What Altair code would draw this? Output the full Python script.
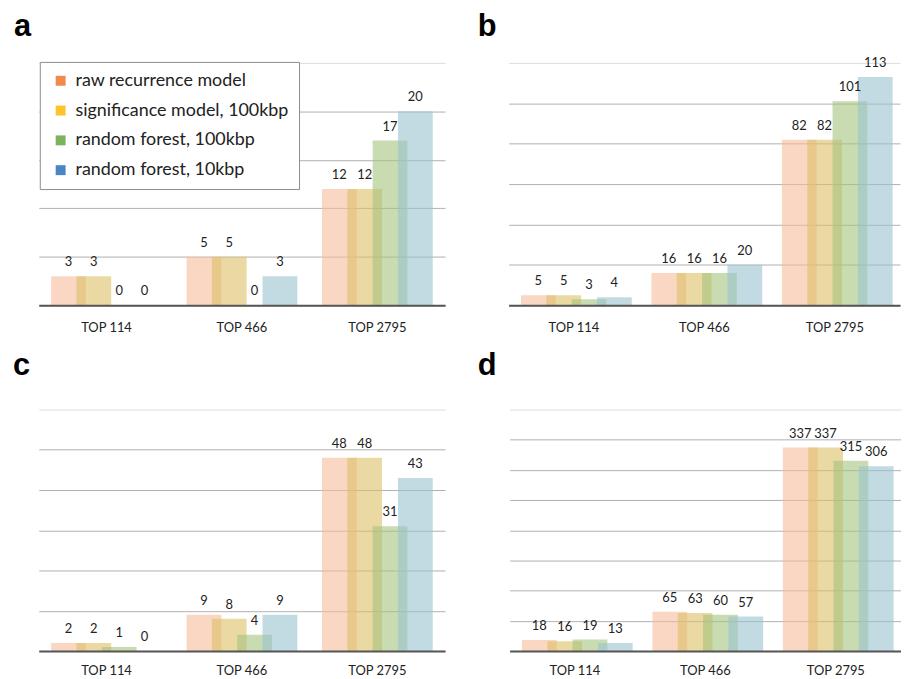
import altair as alt
import pandas as pd

categories = ["TOP 114", "TOP 466", "TOP 2795"]
series = [
    "raw recurrence model",
    "significance model, 100kbp",
    "random forest, 100kbp",
    "random forest, 10kbp",
]
legend_colors = ["#ef8a4c", "#fdc42d", "#7db35f", "#4a86c5"]
bar_colors = ["#f5bc9b", "#dec066", "#a5c37d", "#99c3cf"]

# values per category (TOP 114, TOP 466, TOP 2795), 4 series each
values_a = [3, 3, 0, 0, 5, 5, 0, 3, 12, 12, 17, 20]
values_b = [5, 5, 3, 4, 16, 16, 16, 20, 82, 82, 101, 113]
values_c = [2, 2, 1, 0, 9, 8, 4, 9, 48, 48, 31, 43]
values_d = [18, 16, 19, 13, 65, 63, 60, 57, 337, 337, 315, 306]

y_max = {"a": 25, "b": 120, "c": 60, "d": 400}
y_step = {"a": 5, "b": 20, "c": 10, "d": 50}

FONT = "Lato"


def make_panel(letter, vals, width, height, title_dx, title_offset, label_pad, with_legend):
    df = pd.DataFrame({
        "category": [c for c in categories for _ in series],
        "series": [s for _ in categories for s in series],
        "value": vals,
    })
    ymax = y_max[letter]
    step = y_step[letter]
    grid_vals = list(range(0, ymax + 1, step))
    base = alt.Chart(df).encode(
        x=alt.X("category:N", sort=categories,
                scale=alt.Scale(paddingInner=0, paddingOuter=0),
                axis=alt.Axis(title=None, labelAngle=0, ticks=False, grid=False,
                              domainColor="#555555", domainWidth=2,
                              labelPadding=label_pad, labelFont=FONT, labelFontSize=13,
                              labelColor="#222222", zindex=1)),
        xOffset=alt.XOffset("series:N", sort=series,
                            scale=alt.Scale(domain=series, paddingInner=0, paddingOuter=0.673)),
        y=alt.Y("value:Q", scale=alt.Scale(domain=[0, ymax], nice=False, zero=True),
                axis=alt.Axis(values=grid_vals, title=None, labels=False, ticks=False,
                              domain=False, grid=True, gridWidth=1,
                              gridColor={"condition": {"test": f"datum.value === {ymax}", "value": "#dcdcdc"},
                                         "value": "#b0b0b0"})),
    )
    bars = base.mark_bar(width=35, opacity=0.6).encode(
        color=alt.Color("series:N", sort=series,
                        scale=alt.Scale(domain=series, range=bar_colors), legend=None)
    )
    labels = base.mark_text(font=FONT, fontSize=13, color="#222222",
                            baseline="alphabetic", dy=-10).encode(text="value:Q")
    layers = [bars, labels]
    if with_legend:
        legend_layer = base.mark_square(opacity=0, size=100).encode(
            fill=alt.Fill("series:N", sort=series,
                          scale=alt.Scale(range=legend_colors),
                          legend=alt.Legend(title=None, orient="none", legendX=1, legendY=-1,
                                            fillColor="white", strokeColor="#8c8c8c",
                                            padding=10, symbolType="square", symbolSize=100,
                                            symbolOffset=2, symbolStrokeWidth=0,
                                            symbolOpacity=1, labelFont=FONT,
                                            labelFontSize=18, labelColor="#222222",
                                            labelOffset=6, rowPadding=12, labelLimit=400))
        )
        layers.append(legend_layer)
    return alt.layer(*layers).properties(
        width=width, height=height,
        title=alt.TitleParams(text=letter, anchor="start", frame="group", dx=title_dx,
                              offset=title_offset, font="Liberation Sans", fontSize=31,
                              fontWeight="bold", color="#000000", baseline="alphabetic"),
    )


pa = make_panel("a", values_a, 409, 244, -25, -5, 16, True)
pb = make_panel("b", values_b, 394, 244, -31, -10, 16, False)
pc = make_panel("c", values_c, 409, 243, -26, 3.5, 14, False)
pd_ = make_panel("d", values_d, 394, 243, -32, 3.5, 14, False)

row1 = alt.hconcat(pa, pb, spacing=33).resolve_scale(
    fill="independent", color="independent").resolve_legend(fill="independent", color="independent")
row2 = alt.hconcat(pc, pd_, spacing=33).resolve_scale(color="independent")

chart = alt.vconcat(row1, row2, spacing=16).resolve_scale(
    fill="independent", color="independent"
).resolve_legend(fill="independent", color="independent").properties(
    padding={"left": 5, "top": 0, "right": 0, "bottom": 0}
).configure_view(stroke=None)

chart.save("out.html", embed_options={"renderer": "svg", "actions": False})
